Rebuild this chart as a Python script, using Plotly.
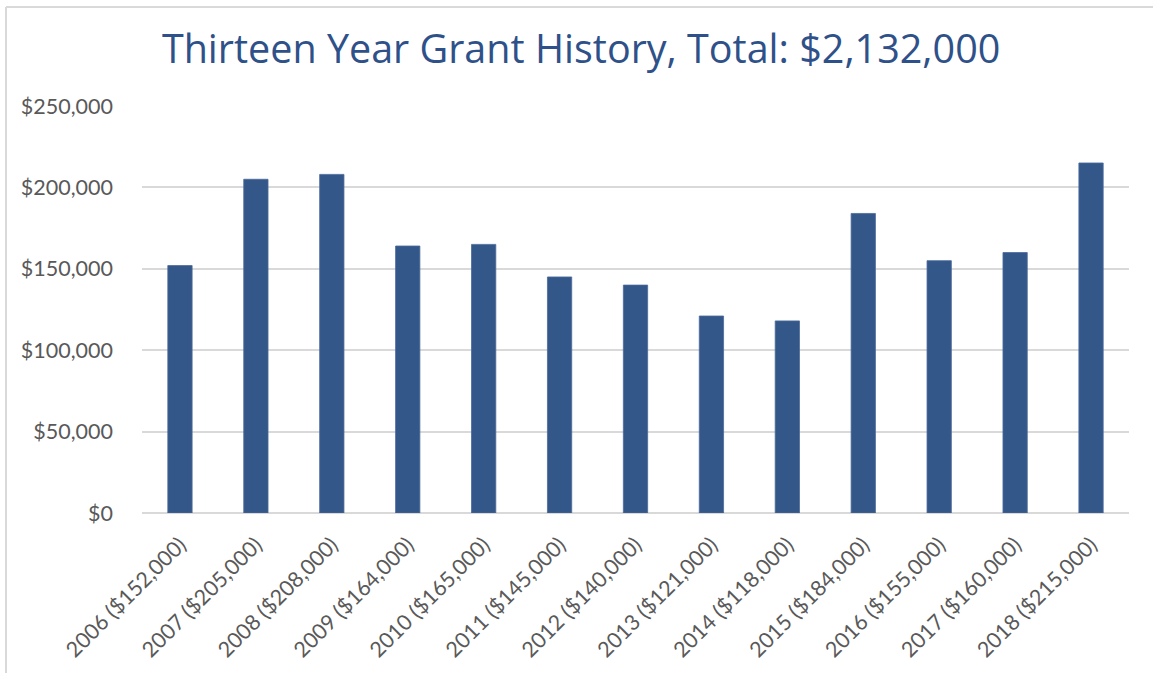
import plotly.graph_objects as go

years = ["2006", "2007", "2008", "2009", "2010", "2011", "2012",
         "2013", "2014", "2015", "2016", "2017", "2018"]
grants = [152000, 205000, 208000, 164000, 165000, 145000, 140000,
          121000, 118000, 184000, 155000, 160000, 215000]
y_ticks = [0, 50000, 100000, 150000, 200000, 250000]
y_tick_labels = ["$0", "$50,000", "$100,000", "$150,000", "$200,000", "$250,000"]
title_text = "Thirteen Year Grant History, Total: $2,132,000"

categories = [f"{y} (${v:,})" for y, v in zip(years, grants)]

W, H = 1153, 673
L, R, T, B = 142, 24, 106, 160

fig = go.Figure(go.Bar(
    x=categories, y=grants,
    marker=dict(color="#34578A", line=dict(color="#4A6A99", width=0.8)),
    width=0.32,
))

def px_to_paper_x(px):
    return (px - L) / (W - L - R)

def px_to_paper_y(py):
    return (H - B - py) / (H - T - B)

# chart-area frame (top and left edges visible in the reference)
fig.add_shape(type="line", xref="paper", yref="paper",
              x0=px_to_paper_x(6), x1=px_to_paper_x(1160),
              y0=px_to_paper_y(7), y1=px_to_paper_y(7),
              line=dict(color="#D9D9D9", width=2), layer="below")
fig.add_shape(type="line", xref="paper", yref="paper",
              x0=px_to_paper_x(6), x1=px_to_paper_x(6),
              y0=px_to_paper_y(7), y1=px_to_paper_y(680),
              line=dict(color="#D9D9D9", width=2), layer="below")

fig.update_layout(
    width=W, height=H,
    margin=dict(l=L, r=R, t=T, b=B, pad=0, autoexpand=False),
    paper_bgcolor="white", plot_bgcolor="white",
    title=dict(text=title_text, x=0.504, xref="container", xanchor="center",
               y=1 - 49 / H, yref="container", yanchor="middle",
               font=dict(family="Open Sans", size=39.5, color="#2F5189")),
    showlegend=False,
    xaxis=dict(tickangle=-45, tickfont=dict(family="Lato", size=21.5, color="#595959"),
               showgrid=False, showline=False, ticks="", ticklabelstandoff=14,
               automargin=False),
    yaxis=dict(range=[0, 250000], tickvals=y_ticks, ticktext=y_tick_labels,
               tickfont=dict(family="Lato", size=21.5, color="#595959"),
               showgrid=True, gridcolor="#D9D9D9", gridwidth=1.5,
               zeroline=True, zerolinecolor="#D9D9D9", zerolinewidth=2,
               showline=False, ticks="", ticklabelstandoff=28, automargin=False),
)

fig.write_html("out.html", config={"displayModeBar": False},
               post_script="document.body.style.margin='0';document.body.style.overflow='hidden';")
